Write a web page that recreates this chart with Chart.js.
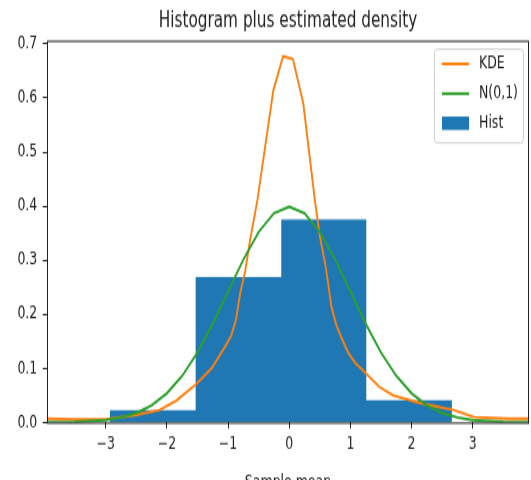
<!DOCTYPE html>
<html>
<head>
<meta charset="utf-8">
<script src="https://cdn.jsdelivr.net/npm/chart.js@4.4.0/dist/chart.umd.min.js"></script>
<style>
  html, body { margin: 0; padding: 0; background: #fff; overflow: hidden; }
  #chart { display: block; }
</style>
</head>
<body>
<!-- canvas is drawn short and stretched tall, like the original figure -->
<canvas id="chart" width="531" height="352" style="width:531px;height:500px"></canvas>
<script>
// histogram: bin edges and density per bin
const histEdges = [-2.93, -1.53, -0.13, 1.26, 2.66];
const histDensity = [0.0227, 0.269, 0.3755, 0.041];

// kernel density estimate
const kdeX = [-3.96, -3.5, -3.0, -2.55, -2.12, -1.85, -1.53, -1.27, -1.05, -0.95, -0.87, -0.8, -0.72, -0.64, -0.52, -0.26, -0.1,
              0.06, 0.23, 0.42, 0.5, 0.6, 0.69, 0.77, 0.86, 0.97, 1.08, 1.2, 1.47, 1.7, 2.14, 2.69, 3.02, 3.57, 3.92];
const kdeY = [0.007, 0.006, 0.006, 0.013, 0.023, 0.04, 0.07, 0.1, 0.14, 0.16, 0.19, 0.24, 0.28, 0.337, 0.411, 0.614, 0.677,
              0.672, 0.59, 0.41, 0.345, 0.285, 0.214, 0.18, 0.155, 0.128, 0.11, 0.097, 0.066, 0.05, 0.036, 0.023, 0.01, 0.007, 0.007];

// standard normal reference curve
const normX = [-3.96, -3.5, -3.0, -2.75, -2.5, -2.25, -2.0, -1.75, -1.5, -1.25, -1.0, -0.75, -0.5, -0.25, 0,
               0.25, 0.5, 0.75, 1.0, 1.25, 1.5, 1.75, 2.0, 2.25, 2.5, 2.75, 3.0, 3.5, 3.92];
const normY = [0.0002, 0.0009, 0.0044, 0.0091, 0.0175, 0.0317, 0.054, 0.0863, 0.1295, 0.1826, 0.242, 0.3011, 0.3521, 0.3867, 0.3989,
               0.3867, 0.3521, 0.3011, 0.242, 0.1826, 0.1295, 0.0863, 0.054, 0.0317, 0.0175, 0.0091, 0.0044, 0.0009, 0.0002];

const legendOrder = ['KDE', 'N(0,1)', 'Hist'];

const textColor = '#222';
Chart.defaults.font.family = "'DejaVu Sans', sans-serif";
Chart.defaults.color = textColor;

// histogram outline as a stepped line: one point per bin start, closing at zero
const histPoints = histDensity.map((d, i) => ({ x: histEdges[i], y: d }));
histPoints.push({ x: histEdges[histEdges.length - 1], y: 0 });

const toPoints = (xs, ys) => xs.map((x, i) => ({ x: x, y: ys[i] }));

// frame around the plot area + legend box in the upper right corner
const frameAndLegend = {
  id: 'frameAndLegend',
  afterDatasetsDraw(chart) {
    const { ctx, chartArea: a } = chart;
    ctx.save();
    ctx.strokeStyle = textColor;
    ctx.lineWidth = 1;
    ctx.strokeRect(a.left + 0.5, a.top + 0.5, a.right - a.left - 1, a.bottom - a.top);

    const boxW = 89, boxH = 66;
    const bx = a.right - 6 - boxW, by = a.top + 5.6;
    ctx.fillStyle = 'rgba(255,255,255,0.8)';
    ctx.strokeStyle = '#d0d0d0';
    ctx.beginPath();
    ctx.roundRect(bx + 0.5, by + 0.5, boxW, boxH, 3);
    ctx.fill();
    ctx.stroke();

    ctx.font = "12.5px 'DejaVu Sans'";
    ctx.textBaseline = 'middle';
    ctx.textAlign = 'left';
    legendOrder.forEach((label, i) => {
      const ds = chart.data.datasets.find(d => d.label === label);
      const cy = by + 10.8 + i * 20.9;
      if (ds.fill) {
        ctx.fillStyle = ds.backgroundColor;
        ctx.fillRect(bx + 8, cy - 4.7, 27, 9.4);
      } else {
        ctx.strokeStyle = ds.borderColor;
        ctx.lineWidth = 2;
        ctx.beginPath();
        ctx.moveTo(bx + 8, cy);
        ctx.lineTo(bx + 35, cy);
        ctx.stroke();
      }
      ctx.fillStyle = textColor;
      ctx.fillText(label, bx + 45, cy);
    });
    ctx.restore();
  }
};

const ctx = document.getElementById('chart').getContext('2d');
new Chart(ctx, {
  type: 'line',
  data: {
    datasets: [
      {
        label: 'KDE',
        data: toPoints(kdeX, kdeY),
        borderColor: '#ff7f0e',
        borderWidth: 1.9,
        pointRadius: 0,
        tension: 0,
        fill: false,
        order: 1
      },
      {
        label: 'N(0,1)',
        data: toPoints(normX, normY),
        borderColor: '#2ca02c',
        borderWidth: 1.9,
        pointRadius: 0,
        tension: 0,
        fill: false,
        order: 0
      },
      {
        label: 'Hist',
        data: histPoints,
        stepped: 'before',
        borderWidth: 0,
        borderColor: '#1f77b4',
        backgroundColor: '#1f77b4',
        pointRadius: 0,
        fill: 'origin',
        order: 2
      }
    ]
  },
  options: {
    responsive: false,
    animation: false,
    devicePixelRatio: 1,
    layout: { padding: { left: 0, right: 2, top: 0, bottom: 0 } },
    plugins: {
      legend: { display: false },
      tooltip: { enabled: false },
      title: {
        display: true,
        fullSize: false, // centre over the plot area, not the whole canvas
        text: 'Histogram plus estimated density',
        color: textColor,
        font: { size: 15.3, weight: 'normal' },
        padding: { top: 5.5, bottom: 4.7 }
      }
    },
    scales: {
      x: {
        type: 'linear',
        min: -3.96,
        max: 3.92,
        afterFit: s => { s.height = 54.6; },
        border: { display: false },
        grid: { drawOnChartArea: false, tickLength: 4.3, tickColor: textColor, tickWidth: 1 },
        ticks: {
          stepSize: 1,
          includeBounds: false,
          autoSkip: false,
          maxRotation: 0,
          padding: 4,
          font: { size: 12.5 },
          color: textColor,
          callback: v => (v < 0 ? '\u2212' + Math.abs(v) : String(v))
        },
        title: {
          display: true,
          text: 'Sample mean',
          color: textColor,
          font: { size: 12.5 },
          padding: { top: 4, bottom: 5 }
        }
      },
      y: {
        min: 0,
        max: 0.706,
        afterFit: s => { s.width = 47; },
        border: { display: false },
        grid: { drawOnChartArea: false, tickLength: 4.3, tickColor: textColor, tickWidth: 1 },
        ticks: {
          stepSize: 0.1,
          includeBounds: false,
          padding: 5.4,
          font: { size: 12.5 },
          color: textColor,
          callback: v => v.toFixed(1)
        }
      }
    }
  },
  plugins: [frameAndLegend]
});
</script>
</body>
</html>
